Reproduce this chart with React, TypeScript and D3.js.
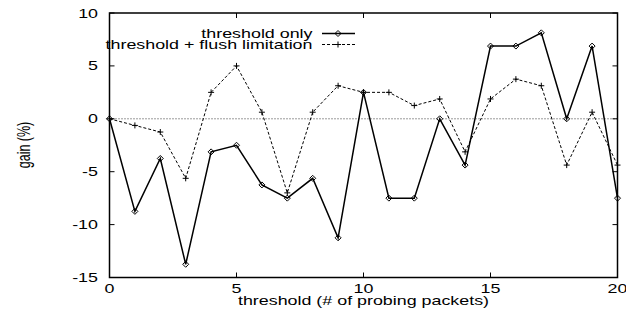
import React from "react";
import * as d3 from "d3";

const xValues = [0, 1, 2, 3, 4, 5, 6, 7, 8, 9, 10, 11, 12, 13, 14, 15, 16, 17, 18, 19, 20];
const thresholdOnly = [0, -8.75, -3.75, -13.75, -3.125, -2.5, -6.25, -7.5, -5.625, -11.25, 2.5, -7.5, -7.5, 0, -4.375, 6.875, 6.875, 8.125, 0, 6.875, -7.5];
const flushLimitation = [0, -0.625, -1.25, -5.625, 2.5, 5.0, 0.625, -7.0, 0.625, 3.125, 2.5, 2.5, 1.25, 1.875, -3.125, 1.875, 3.75, 3.125, -4.375, 0.625, -4.375];
const xTicks = [0, 5, 10, 15, 20];
const yTicks = [-15, -10, -5, 0, 5, 10];
const seriesNames = ["threshold only", "threshold + flush limitation"];
const xLabel = "threshold (# of probing packets)";
const yLabel = "gain (%)";

const W = 626;
const H = 312;
const L = 109.5;
const R = 617.5;
const T = 13;
const B = 277.5;
const SX = 1.43;
const FONT = "'Liberation Sans', Arial, Helvetica, sans-serif";
const FS = 12.5;

export default function App() {
  const x = d3.scaleLinear().domain([0, 20]).range([L, R]);
  const y = d3.scaleLinear().domain([-15, 10]).range([B, T]);
  const line = d3
    .line<number>()
    .x((_, i) => x(xValues[i]))
    .y((d) => y(d));

  const diamond = (cx: number, cy: number, k: string) => (
    <path
      key={k}
      d={`M${cx},${cy - 3} L${cx + 3},${cy} L${cx},${cy + 3} L${cx - 3},${cy} Z`}
      fill="none"
      stroke="#000"
      strokeWidth={1}
    />
  );
  const plus = (cx: number, cy: number, k: string) => (
    <path
      key={k}
      d={`M${cx - 3},${cy} H${cx + 3} M${cx},${cy - 3} V${cy + 3}`}
      stroke="#000"
      strokeWidth={1}
    />
  );

  const text = (
    s: string,
    tx: number,
    ty: number,
    anchor: string,
    k: string,
    rotate = false
  ) => (
    <text
      key={k}
      transform={
        rotate
          ? `translate(${tx},${ty}) scale(${SX},1) rotate(-90)`
          : `translate(${tx},${ty}) scale(${SX},1)`
      }
      textAnchor={anchor}
      fontFamily={FONT}
      fontSize={FS}
      fill="#000"
    >
      {s}
    </text>
  );

  const tick = 5;
  const legY = [33.5, 44.5];
  const legX0 = 322;
  const legX1 = 355;
  const legXM = 338;

  return (
    <svg
      width={W}
      height={H}
      style={{ position: "absolute", left: 0, top: 0, background: "#fff" }}
    >
      <rect x={0} y={0} width={W} height={H} fill="#fff" />
      {/* zero line */}
      <line
        x1={L}
        x2={R}
        y1={y(0)}
        y2={y(0)}
        stroke="#000"
        strokeWidth={0.8}
        strokeDasharray="1,2"
      />
      {/* ticks */}
      {xTicks.map((t) => (
        <g key={`xt${t}`}>
          <line x1={x(t)} x2={x(t)} y1={B} y2={B - tick} stroke="#000" strokeWidth={1} />
          <line x1={x(t)} x2={x(t)} y1={T} y2={T + tick} stroke="#000" strokeWidth={1} />
        </g>
      ))}
      {yTicks.map((t) => (
        <g key={`yt${t}`}>
          <line x1={L} x2={L + tick} y1={y(t)} y2={y(t)} stroke="#000" strokeWidth={1} />
          <line x1={R} x2={R - tick} y1={y(t)} y2={y(t)} stroke="#000" strokeWidth={1} />
        </g>
      ))}
      {/* frame */}
      <rect x={L} y={T} width={R - L} height={B - T} fill="none" stroke="#000" strokeWidth={1.5} />
      {/* tick labels */}
      {xTicks.map((t) => text(String(t), x(t), 293, "middle", `xl${t}`))}
      {yTicks.map((t) => text(String(t), 98, y(t) + 4.5, "end", `yl${t}`))}
      {/* axis labels */}
      {text(xLabel, x(10), 305, "middle", "xlab")}
      {text(yLabel, 30, 145, "middle", "ylab", true)}
      {/* series */}
      <path d={line(flushLimitation) || ""} fill="none" stroke="#000" strokeWidth={1} strokeDasharray="3,2" />
      <path d={line(thresholdOnly) || ""} fill="none" stroke="#000" strokeWidth={1.5} />
      {thresholdOnly.map((v, i) => diamond(x(xValues[i]), y(v), `d${i}`))}
      {flushLimitation.map((v, i) => plus(x(xValues[i]), y(v), `p${i}`))}
      {/* legend */}
      {text(seriesNames[0], 312.5, legY[0] + 4, "end", "lg0")}
      {text(seriesNames[1], 312.5, legY[1] + 4, "end", "lg1")}
      <line x1={legX0} x2={legX1} y1={legY[0]} y2={legY[0]} stroke="#000" strokeWidth={1.5} />
      {diamond(legXM, legY[0], "ld")}
      <line x1={legX0} x2={legX1} y1={legY[1]} y2={legY[1]} stroke="#000" strokeWidth={1} strokeDasharray="3,2" />
      {plus(legXM, legY[1], "lp")}
    </svg>
  );
}
